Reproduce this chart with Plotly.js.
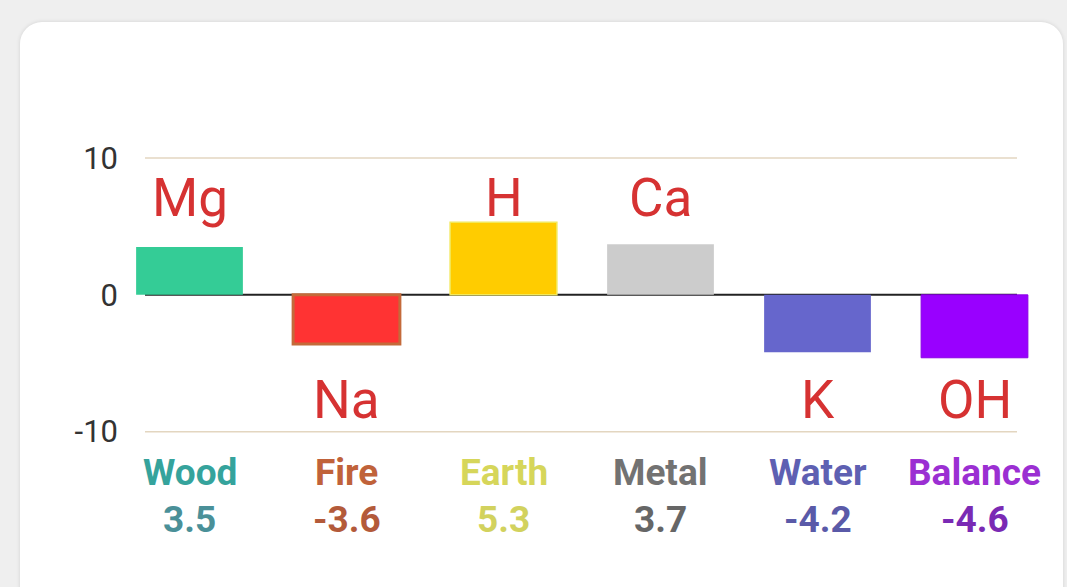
<!DOCTYPE html>
<html>
<head>
<meta charset="utf-8">
<script src="https://cdn.plot.ly/plotly-3.0.1.min.js"></script>
<style>
  html, body { margin:0; padding:0; width:1067px; height:587px; overflow:hidden; background:#efefef; }
  #card { position:absolute; left:20px; top:22px; width:1043px; height:600px; background:#fff; border-radius:22px; box-shadow:0 0 4px rgba(0,0,0,0.12); }
  #chart { position:absolute; left:0; top:0; width:1067px; height:587px; }
</style>
</head>
<body>
<div id="card"></div>
<div id="chart"></div>
<script>
const categories = ['Wood', 'Fire', 'Earth', 'Metal', 'Water', 'Balance'];
const values = [3.5, -3.6, 5.3, 3.7, -4.2, -4.6];
const elements = ['Mg', 'Na', 'H', 'Ca', 'K', 'OH'];
const barColors = ['#34cc96', '#ff3333', '#ffcc00', '#cccccc', '#6666cc', '#9900ff'];
const barLineColors = ['#34cc96', '#c46a3a', '#f2e85a', '#cccccc', '#6666cc', '#8a00e6'];
const barLineWidths = [0, 3, 1.5, 0, 0, 1];
const nameColors = ['#35a39c', '#c0623a', '#d6d65a', '#727272', '#5e60b2', '#9b2fd2'];
const valueColors = ['#4a9098', '#b35a3a', '#d2d25e', '#666666', '#5a5aa8', '#7a2ab4'];
const yTickVals = [-10, 0, 10];
const yTickText = ['-10', '0', '10'];
const gridVals = [10, -10];

const font = 'Roboto, "Noto Sans", sans-serif';

const trace = {
  type: 'bar',
  x: categories,
  y: values,
  marker: { color: barColors, line: { color: barLineColors, width: barLineWidths } },
  hoverinfo: 'none'
};

const annotations = [];
categories.forEach((c, i) => {
  annotations.push({
    x: c, xref: 'x', y: values[i] > 0 ? 7.1 : -7.7, yref: 'y',
    text: elements[i], showarrow: false,
    font: { family: font, size: 53, color: '#d63232' },
    xanchor: 'center', yanchor: 'middle'
  });
  annotations.push({
    x: c, xref: 'x', y: -0.036, yref: 'paper',
    text: '<b>' + c + '</b>', showarrow: false,
    font: { family: font, size: 37, color: nameColors[i] },
    xanchor: 'center', yanchor: 'middle'
  });
  annotations.push({
    x: c, xref: 'x', y: -0.159, yref: 'paper',
    text: '<b>' + String(values[i]) + '</b>', showarrow: false,
    font: { family: font, size: 37, color: valueColors[i] },
    xanchor: 'center', yanchor: 'middle'
  });
});

const gx0 = (145 - 111) / 942, gx1 = (1017 - 111) / 942;
const shapes = gridVals.map(v => ({
  type: 'line', xref: 'paper', yref: 'y', x0: gx0, x1: gx1, y0: v, y1: v,
  line: { color: '#e3d6c0', width: 1.5 }, layer: 'below'
}));
shapes.push({
  type: 'line', xref: 'paper', yref: 'y', x0: gx0, x1: gx1, y0: 0, y1: 0,
  line: { color: '#222222', width: 2 }, layer: 'below'
});

const layout = {
  width: 1067, height: 587,
  margin: { l: 111, r: 14, t: 76, b: 128 },
  paper_bgcolor: 'rgba(0,0,0,0)',
  plot_bgcolor: 'rgba(0,0,0,0)',
  showlegend: false,
  bargap: 0.32,
  xaxis: { showticklabels: false, showgrid: false, zeroline: false, showline: false, ticks: '', fixedrange: true },
  yaxis: {
    range: [-12, 16], tickvals: yTickVals, ticktext: yTickText,
    showgrid: false, zeroline: false, showline: false, ticks: '',
    ticklabelstandoff: -8,
    tickfont: { family: font, size: 31, color: '#333333' }, fixedrange: true
  },
  shapes: shapes,
  annotations: annotations
};

Plotly.newPlot('chart', [trace], layout, { displayModeBar: false, staticPlot: true });
</script>
</body>
</html>
